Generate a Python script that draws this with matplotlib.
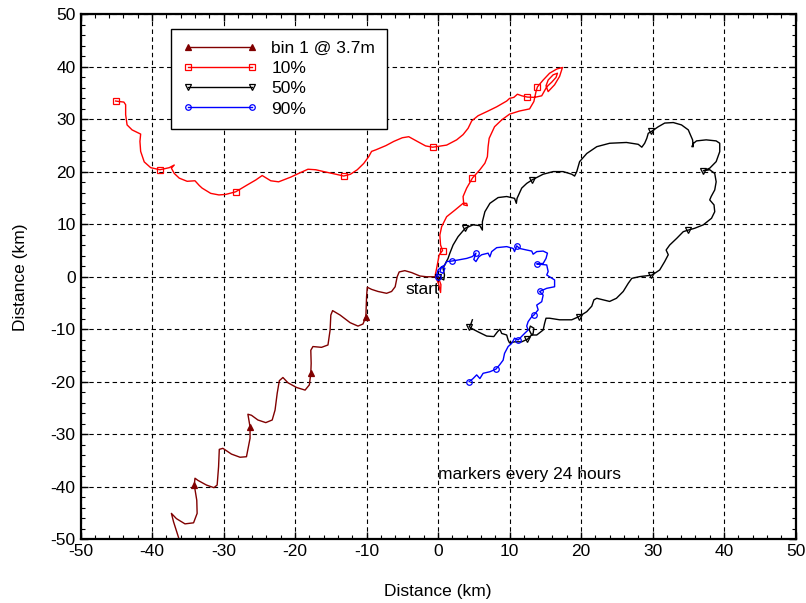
"""Progressive vector diagram of drift at several depths, markers every 24 hours."""

import matplotlib

matplotlib.use("Agg")
import matplotlib.pyplot as plt
from matplotlib.ticker import MultipleLocator

plt.rcParams["font.family"] = ["Liberation Sans", "DejaVu Sans"]
plt.rcParams["axes.unicode_minus"] = False

# bin 1 @ 3.7m, cumulative displacement (km) from the start point
bin1_x = [0, -1.6, -2.55, -3.7, -4.65, -5.44, -5.72, -6.0, -6.5, -7.2, -8.4, -9.3, -9.9, -10.0,
          -10.1, -10.5, -11.2, -12.3, -13.7, -14.75, -15.0, -15.1, -15.4, -16.3, -17.5, -17.8, -17.75,
          -17.8, -18.0, -18.6, -19.8, -21.0, -21.7, -22.2, -22.5, -22.8, -23.2, -24.1, -25.2, -26.1, -26.6,
          -26.3, -26.3, -26.8, -27.7, -28.9, -30.1, -30.6, -30.7, -30.9, -31.35, -32.4, -33.6, -34.0,
          -34.1, -33.75, -33.7, -34.2, -35.4, -36.6, -37.3, -37.0, -36.3, -36.2]
bin1_y = [0, 0, 0.15, 0.8, 1.17, 0.92, 0, -1.9, -2.8, -3.15, -2.8, -2.4, -2.0, -3.8,
          -7.6, -9.0, -9.4, -8.75, -7.3, -6.45, -7.3, -10.15, -13.0, -13.45, -13.3, -14.0, -16.5,
          -18.4, -20.6, -21.6, -21.1, -20.2, -19.2, -19.8, -22.2, -25.4, -27.3, -27.8, -27.3, -26.4, -26.2,
          -28.6, -30.8, -34.3, -34.4, -33.8, -32.7, -32.9, -36.2, -39.7, -40.2, -39.7, -38.8, -38.4,
          -39.7, -42.6, -45.1, -46.9, -47.1, -46.1, -45.1, -46.7, -49.7, -50.2]
bin1_days = [14, 27, 41, 54]

# 10% depth
p10_x = [0, 0.4, 0.35, 0.1, -0.4, -0.2, 0.16, 0.63, 0.35, 0.25, 0.5, 1.2, 2.35, 3.5, 4.0, 4.1, 3.6,
         3.5, 4.0, 4.8, 5.85, 6.55, 6.9, 7.0, 7.15, 7.9, 8.9, 10.0, 11.4, 12.8, 13.4, 13.7, 13.9,
         14.7, 15.6, 16.6, 17.4, 17.0, 16.3, 15.4, 15.1, 15.4, 16.1, 16.7, 16.5, 15.9, 15.2, 14.5, 13.5,
         12.5, 11.7, 11.1, 10.6, 10.0, 9.6, 8.2, 7.0, 5.6, 4.7, 4.2, 3.5, 2.6, 1.2, -0.75, -1.75, -2.9,
         -4.1, -5.0, -6.2, -7.3, -8.7, -9.3, -9.7, -10.4, -11.3, -12.25, -13.2, -14.3, -16.0, -17.1,
         -18.2, -19.5, -20.6, -22.3, -23.4, -24.6, -25.5, -26.7, -28.3, -29.7, -30.65, -31.8, -33.0,
         -33.4, -34.0, -35.1, -36.2, -36.9, -37.3, -36.9, -37.6, -38.9, -40.2, -41.1, -41.6, -41.7,
         -41.6, -42.8, -43.5, -43.7, -43.7, -43.95, -44.6, -45.1]
p10_y = [0, -1.5, -3.0, -1.5, 0.3, 1.6, 4.2, 5.0, 6.05, 7.95, 9.55, 11.45, 12.7, 14.0, 14.0, 13.55, 13.7,
         15.3, 16.9, 18.8, 20.4, 21.65, 22.9, 24.8, 26.4, 28.6, 29.9, 31.0, 31.6, 32.0, 33.4, 35.3, 36.2,
         37.5, 38.8, 39.6, 39.9, 38.2, 36.6, 35.3, 36.4, 37.5, 38.5, 38.8, 38.0, 37.1, 36.2, 34.5, 34.2,
         34.25, 34.5, 34.8, 34.2, 34.0, 33.5, 32.4, 31.6, 30.7, 29.7, 28.3, 27.1, 26.1, 25.1, 24.7, 24.95,
         25.8, 26.7, 26.5, 25.8, 25.0, 24.2, 23.9, 22.9, 21.6, 20.4, 19.55, 19.2, 19.55, 20.05, 20.4,
         20.5, 19.7, 19.0, 18.1, 18.3, 19.3, 18.45, 17.5, 16.2, 15.7, 15.6, 15.9, 16.9,
         17.4, 18.3, 18.2, 18.8, 19.7, 20.7, 21.3, 20.8, 20.4, 20.8, 21.9, 23.9, 25.8,
         27.2, 28.0, 28.95, 30.9, 32.8, 33.3, 33.4, 33.5]
p10_days = [7, 19, 32, 49, 63, 76, 88, 101, 113]

# 50% depth
p50_x = [0, 0.8, 0.9, 0.7, 1.05, 1.4, 1.65, 2.1, 2.8, 3.8, 4.9, 5.85, 6.2, 6.2, 6.55, 7.25, 8.4, 9.6,
         10.7, 10.95, 11.05, 11.7, 12.4, 13.2, 14.7, 16.1, 17.5, 18.7, 19.1, 19.4, 19.8, 20.8, 22.2,
         24.0, 26.35, 28.0, 28.5, 28.9, 29.2, 29.4, 29.85, 30.8, 31.7, 32.9, 34.05, 35.0, 35.6, 35.7,
         35.5, 35.7, 36.15, 37.5, 38.9, 39.4, 39.4, 38.9, 38.0, 37.1, 38.0, 38.7, 38.9, 38.7, 38.2,
         38.0, 38.6, 38.7, 38.25, 37.1, 35.9, 35.0, 34.3, 33.4, 32.4, 31.9, 32.2, 31.7, 31.0, 30.3,
         29.85, 28.2, 27.1, 26.6, 25.9, 24.95, 24.0, 23.1, 22.2, 21.8, 21.5, 20.8, 19.7, 18.7, 17.0,
         15.6, 15.1, 14.9, 14.7, 13.8, 13.1, 12.75, 12.9, 13.4, 13.3, 12.5, 11.7, 10.7, 10.0, 9.8, 9.6,
         8.9, 8.65, 8.3, 7.8, 6.8, 5.6, 4.9, 4.35, 4.6, 4.8]
p50_y = [0, -0.6, 0.34, 1.6, 2.6, 3.5, 4.5, 6.05, 7.65, 9.25, 9.9, 9.75, 8.9, 10.5, 12.4, 14.0, 15.1, 15.3,
         14.95, 14.0, 14.95, 16.9, 17.8, 18.5, 19.55, 20.05, 20.05, 19.55, 19.2, 20.05, 21.95, 23.5, 24.8,
         25.45, 25.6, 25.25, 24.7, 25.45, 26.4, 27.35, 27.7, 28.6, 29.3, 29.4, 28.95, 28.0, 26.1, 24.8,
         24.8, 25.4, 25.9, 26.1, 25.9, 25.45, 23.85, 21.95, 20.7, 20.2, 20.4, 19.7, 18.1, 16.55, 15.3,
         14.65, 13.7, 12.4, 11.15, 9.9, 9.25, 8.9, 8.6, 7.35, 6.05, 5.1, 4.2, 2.9, 1.3, 0.66,
         0.3, 0.03, -0.3, -1.25, -2.8, -4.1, -4.7, -4.4, -4.1, -4.4, -5.6, -6.65, -7.6, -8.2, -8.2,
         -7.9, -7.9, -8.9, -10.15, -11.1, -11.1, -10.15, -9.4, -9.8, -10.8, -11.9, -12.4, -12.4, -12.6,
         -12.05, -11.1, -10.8, -10.0, -10.5, -11.4, -11.3, -10.5, -10.0, -9.5, -9.0, -8.2]
p50_days = [0, 9, 23, 40, 57, 69, 78, 90, 103, 116]

# 90% depth
p90_x = [0, -0.2, 0, 0.5, 0.95, 0.7, 0.25, 0.5, 0.95, 1.2, 1.95, 2.8, 4.0, 4.8, 5.3, 5.0, 5.3, 5.7, 6.1,
         7.0, 7.25, 7.5, 8.2, 9.6, 10.5, 10.7, 11.0, 11.4, 12.4, 13.1, 13.3, 13.8, 14.7, 15.3, 15.1, 14.7,
         13.8, 15.2, 15.4, 15.2, 16.3, 16.3, 15.2, 14.2, 14.7, 14.5, 13.8, 14.0, 13.4, 13.1, 12.6, 12.4,
         12.6, 12.1, 11.2, 10.7, 10.3, 9.8, 9.3, 9.1, 8.6, 8.1, 7.25, 6.3, 5.85, 5.4, 4.9, 4.35]
p90_y = [0, 0.34, 1.3, 1.9, 1.6, 0.66, 0.97, 1.9, 2.25, 2.9, 3.0, 3.2, 3.5, 3.85, 4.5, 3.3, 2.9, 3.8, 4.2,
         4.5, 3.8, 4.8, 5.55, 5.75, 5.4, 4.8, 5.9, 5.4, 5.1, 4.9, 4.3, 4.8, 4.9, 4.5, 3.5, 2.55,
         2.45, 2.25, 1.0, 0.34, -0.6, -1.9, -2.2, -2.8, -3.5, -4.75, -5.4, -6.3, -7.3, -7.6, -8.55, -9.4,
         -10.15, -10.8, -12.05, -11.7, -12.7, -13.3, -14.6, -15.9, -16.8, -17.6, -18.1, -18.4, -19.4,
         -18.7, -19.4, -20.0]
p90_days = [0, 10, 14, 26, 36, 43, 48, 54, 61, 67]


def plot_drift(output_path):
    fig = plt.figure(figsize=(8.06, 6.03), dpi=100)
    ax = fig.add_axes([0.100, 0.106, 0.887, 0.870])

    common = dict(linewidth=1.0, markersize=5, markeredgewidth=0.9)
    ax.plot(bin1_x, bin1_y, color="#800000", marker="^", markerfacecolor="#800000",
            markevery=bin1_days, label="bin 1 @ 3.7m", **common)
    ax.plot(p10_x, p10_y, color="red", marker="s", markerfacecolor="none",
            markevery=p10_days, label="10%", **common)
    ax.plot(p50_x, p50_y, color="black", marker="v", markerfacecolor="none",
            markevery=p50_days, label="50%", **common)
    ax.plot(p90_x, p90_y, color="blue", marker="o", markerfacecolor="none",
            markevery=p90_days, label="90%", linewidth=1.0, markersize=4, markeredgewidth=0.9)

    ax.text(-4.6, -2.5, "start", fontsize=12.5, ha="left", va="center")
    ax.text(0.0, -37.6, "markers every 24 hours", fontsize=12.5, ha="left", va="center")

    ax.set_xlim(-50, 50)
    ax.set_ylim(-50, 50)
    ax.xaxis.set_major_locator(MultipleLocator(10))
    ax.yaxis.set_major_locator(MultipleLocator(10))
    ax.xaxis.set_minor_locator(MultipleLocator(2))
    ax.yaxis.set_minor_locator(MultipleLocator(2))
    ax.tick_params(which="both", direction="in", top=True, right=True, labelsize=12.5)
    ax.tick_params(which="major", length=5, width=1.0)
    ax.tick_params(which="minor", length=3, width=0.8)
    ax.grid(True, which="major", color="black", linestyle=(0, (4, 3)), linewidth=0.8)
    for spine in ax.spines.values():
        spine.set_linewidth(1.6)

    ax.set_xlabel("Distance (km)", fontsize=12.5, labelpad=18)
    ax.set_ylabel("Distance (km)", fontsize=12.5, labelpad=16)

    leg = ax.legend(loc="upper left", bbox_to_anchor=(0.126, 0.973), borderaxespad=0.0,
                    fontsize=12.5, numpoints=2, handlelength=4.3, handletextpad=0.8,
                    labelspacing=0.29, borderpad=0.7, fancybox=False, framealpha=1.0,
                    edgecolor="black")
    leg.get_frame().set_linewidth(1.0)

    fig.savefig(output_path, dpi=100)
    plt.close(fig)


def main():
    plot_drift("out.png")


if __name__ == "__main__":
    main()
